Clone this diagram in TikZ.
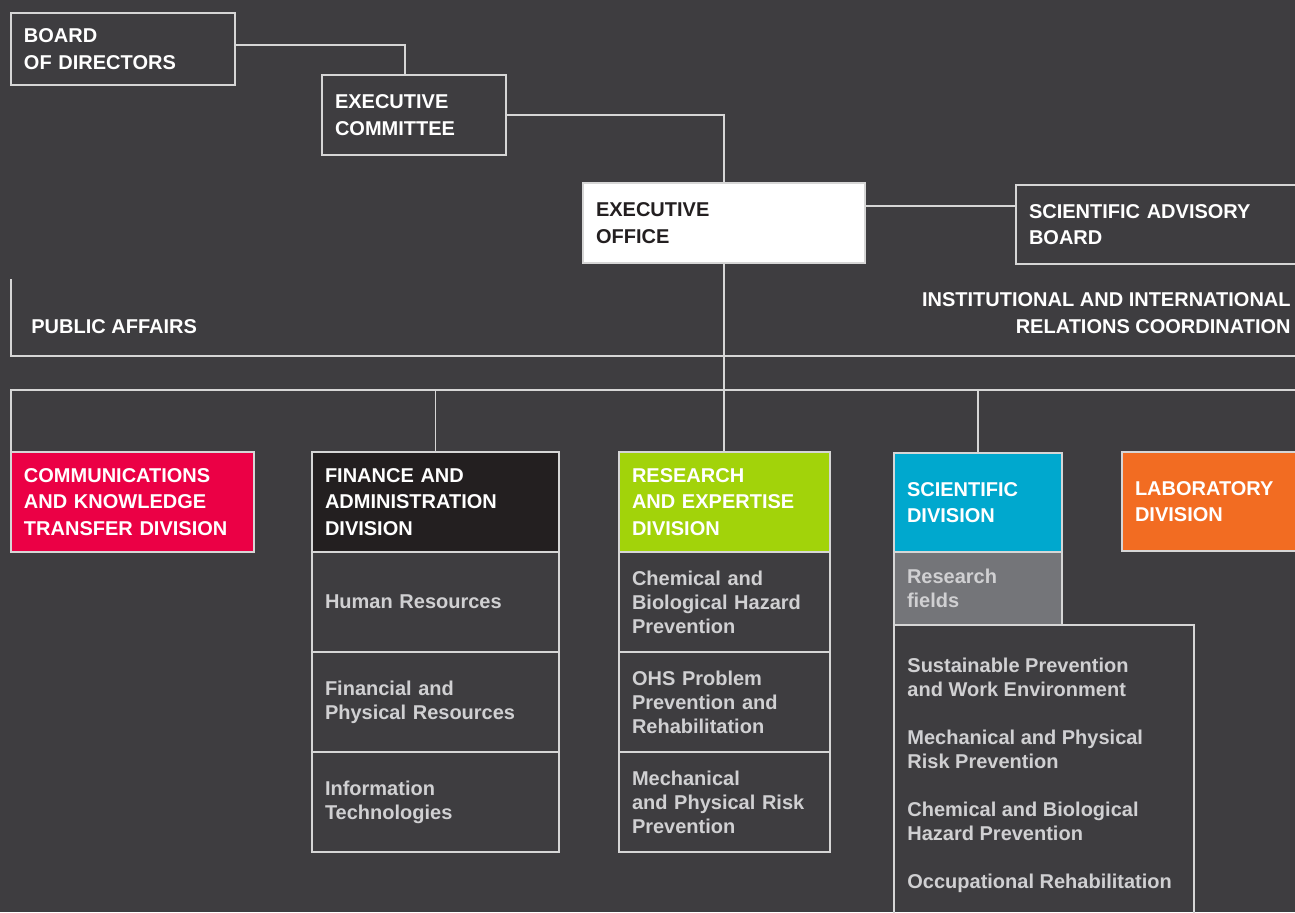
\documentclass[tikz,border=0pt]{standalone}
\usepackage{fontspec}
\setmainfont{Liberation Sans}
\usetikzlibrary{positioning}
\definecolor{bgdark}{RGB}{62,61,64}
\definecolor{rulegrey}{RGB}{214,214,214}
\definecolor{softtext}{RGB}{208,208,210}
\definecolor{crimsonbox}{RGB}{235,0,69}
\definecolor{inkblack}{RGB}{35,31,32}
\definecolor{greenbox}{RGB}{162,211,10}
\definecolor{cyanbox}{RGB}{0,168,206}
\definecolor{orangebox}{RGB}{242,108,34}
\definecolor{fieldgrey}{RGB}{116,117,121}

\tikzset{
    unit/.style={draw=rulegrey, line width=0.75pt, outer sep=0pt, anchor=north west, inner xsep=6.5pt, inner ysep=0pt, align=left, text=white, font=\fontsize{10}{13.25}\selectfont\bfseries},
    subunit/.style={unit, text=softtext, font=\fontsize{10}{12}\selectfont\bfseries},
    plain/.style={inner sep=0pt, text=white, font=\fontsize{10}{13.25}\selectfont\bfseries},
    link/.style={draw=rulegrey, line width=0.75pt}
}

\begin{document}
\begin{tikzpicture}[x=0.5pt, y=-0.5pt]
        \useasboundingbox (0,0) rectangle (1295,912);
        \fill[bgdark] (0,0) rectangle (1295,912);
        \clip (0,0) rectangle (1295,912);

        \node[unit, text width=99pt, minimum height=36pt] (board) at (11,13) {BOARD\\OF DIRECTORS};
        \node[unit, text width=79pt, minimum height=40pt] (excom) at (322,75) {EXECUTIVE\\COMMITTEE};
        \node[unit, fill=white, text=inkblack, text width=128pt, minimum height=40pt] (exoff) at (583,183) {EXECUTIVE\\OFFICE};
        \node[unit, text width=140pt, minimum height=39.5pt] (sab) at (1016,185) {SCIENTIFIC ADVISORY\\BOARD};

        \node[plain, anchor=west] (pubaff) at (31,327) {PUBLIC AFFAIRS};
        \node[plain, anchor=east, align=right] (intrel) at (1291,313) {INSTITUTIONAL AND INTERNATIONAL\\RELATIONS COORDINATION};

        \node[unit, fill=crimsonbox, text width=108.5pt, minimum height=50pt] (comm) at (11,452) {COMMUNICATIONS\\AND KNOWLEDGE\\TRANSFER DIVISION};

        \node[unit, fill=inkblack, text width=110.5pt, minimum height=50pt] (fin) at (312,452) {FINANCE AND\\ADMINISTRATION\\DIVISION};
        \node[subunit, text width=110.5pt, minimum height=50pt, below=0pt of fin] (hr) {Human Resources};
        \node[subunit, text width=110.5pt, minimum height=50pt, below=0pt of hr] (finres) {Financial and\\Physical Resources};
        \node[subunit, text width=110.5pt, minimum height=50pt, below=0pt of finres] (infotech) {Information\\Technologies};

        \node[unit, fill=greenbox, text width=92.5pt, minimum height=50pt] (res) at (619,452) {RESEARCH\\AND EXPERTISE\\DIVISION};
        \node[subunit, text width=92.5pt, minimum height=50pt, below=0pt of res] (chembio) {Chemical and\\Biological Hazard\\Prevention};
        \node[subunit, text width=92.5pt, minimum height=50pt, below=0pt of chembio] (ohs) {OHS Problem\\Prevention and\\Rehabilitation};
        \node[subunit, text width=92.5pt, minimum height=50pt, below=0pt of ohs] (mechphys) {Mechanical\\and Physical Risk\\Prevention};

        \node[unit, fill=cyanbox, text width=71pt, minimum height=49.5pt] (sci) at (894,453) {SCIENTIFIC\\DIVISION};
        \node[subunit, fill=fieldgrey, text width=71pt, minimum height=36.5pt, below=0pt of sci] (fields) {Research\\fields};
        \node[unit, minimum width=150pt, minimum height=160pt] (fieldlist) at (fields.south west) {};
        \node[plain, text=softtext, align=left, anchor=north west, font=\fontsize{10}{12}\selectfont\bfseries] (fieldtext) at (907,658) {Sustainable Prevention\\and Work Environment\\[12pt]Mechanical and Physical\\Risk Prevention\\[12pt]Chemical and Biological\\Hazard Prevention\\[12pt]Occupational Rehabilitation};

        \node[unit, fill=orangebox, text width=100pt, minimum height=49.5pt] (lab) at (1122,452) {LABORATORY\\DIVISION};

        \draw[link] ([yshift=2pt]board.east) -| ([xshift=-4.5pt]excom.north);
        \draw[link] (excom.east) -| (exoff.north);
        \coordinate (eolink) at ([yshift=8.5pt]exoff.east);
        \draw[link] (eolink) -- (eolink -| sab.west);
        \draw[link] (exoff.south) -- (exoff.south |- res.north);

        \coordinate (patop) at (11,279);
        \coordinate (paend) at (1300,356);
        \draw[link] (patop) |- (paend);

        \coordinate (barend) at (1300,390);
        \draw[link] (comm.north west) |- (barend);
        \draw[link] (fin.north) -- (fin.north |- barend);
        \draw[link] (sci.north) -- (sci.north |- barend);
    \end{tikzpicture}
\end{document}
